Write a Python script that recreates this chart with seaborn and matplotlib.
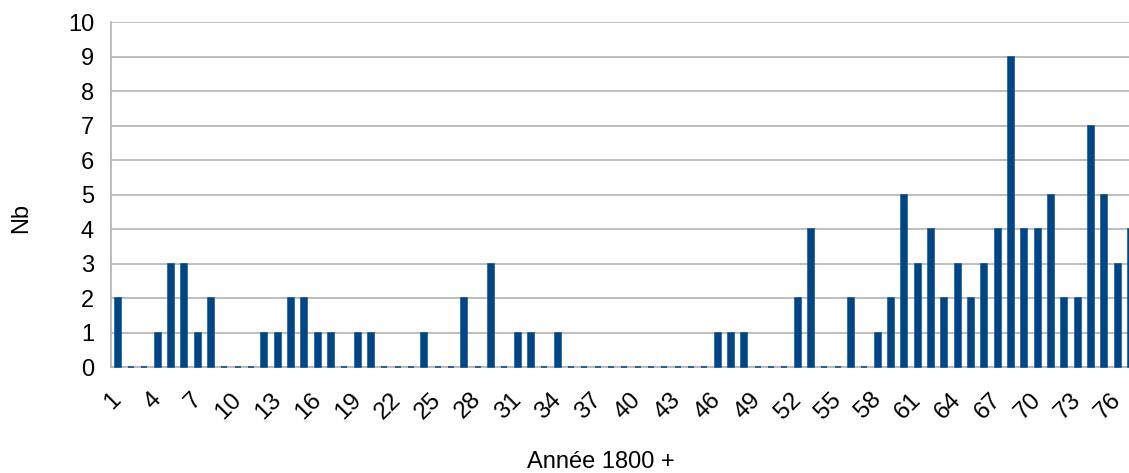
import seaborn as sns
import matplotlib.pyplot as plt
import pandas as pd

# years (1800 + n) and counts per year
years = list(range(1, 78))
counts = [
    2, 0, 0, 1, 3, 3, 1, 2, 0, 0,
    0, 1, 1, 2, 2, 1, 1, 0, 1, 1,
    0, 0, 0, 1, 0, 0, 2, 0, 3, 0,
    1, 1, 0, 1, 0, 0, 0, 0, 0, 0,
    0, 0, 0, 0, 0, 1, 1, 1, 0, 0,
    0, 2, 4, 0, 0, 2, 0, 1, 2, 5,
    3, 4, 2, 3, 2, 3, 4, 9, 4, 4,
    5, 2, 2, 7, 5, 3, 4,
]
shown_labels = [str(y) for y in years[::3]]

bar_color = "#004586"
grid_color = "#b3b3b3"

df = pd.DataFrame({"annee": [str(y) for y in years], "nb": counts})

sns.set_style("white")
plt.rcParams["font.family"] = ["Liberation Sans", "DejaVu Sans"]
plt.rcParams["text.color"] = "black"
plt.rcParams["xtick.labelcolor"] = "black"
plt.rcParams["ytick.labelcolor"] = "black"
plt.rcParams["axes.labelcolor"] = "black"

W, H = 1129, 473
fig = plt.figure(figsize=(W / 100, H / 100), dpi=100)

# plot area in pixels: left 111, top 22, bottom 367, 77 slots of 13.33 px
left, top, bottom = 111, 22.3, 367
slot = 13.333
ax = fig.add_axes([left / W, (H - bottom) / H, 77 * slot / W, (bottom - top) / H])

sns.barplot(
    data=df,
    x="annee",
    y="nb",
    order=[str(y) for y in years],
    color=bar_color,
    saturation=1,
    width=0.45,
    edgecolor=bar_color,
    linewidth=1.1,
    ax=ax,
)
# bars (and the zero-height stubs) drawn over the axis line
for p in ax.patches:
    p.set_zorder(3)
    p.set_clip_on(False)

ax.set_xlim(-0.5, len(years) - 0.5)
ax.set_ylim(0, 10)
ax.set_yticks(range(0, 11))
ax.set_yticklabels([str(i) for i in range(0, 11)], fontsize=17)

ax.set_xticks(range(0, len(years), 3))
ax.set_xticklabels(shown_labels, fontsize=17.5)
ax.set_xticks([i - 0.5 for i in range(len(years) + 1)], minor=True)
ax.tick_params(axis="x", which="major", length=0, pad=21)
ax.tick_params(axis="x", which="minor", length=7.2, width=1, color=grid_color)
ax.tick_params(axis="y", length=7.2, width=1, color=grid_color, pad=5)
for lab in ax.get_xticklabels():
    lab.set_rotation(45)
    lab.set_ha("right")
    lab.set_va("center")
    lab.set_rotation_mode("anchor")

ax.yaxis.grid(True, color=grid_color, linewidth=1.2)
ax.set_axisbelow(True)
for s in ["top", "right"]:
    ax.spines[s].set_visible(False)
for s in ["left", "bottom"]:
    ax.spines[s].set_color(grid_color)
    ax.spines[s].set_linewidth(1.2)

ax.set_xlabel("Année 1800 +", fontsize=17)
ax.set_ylabel("Nb", fontsize=17)
ax.xaxis.set_label_coords((601 - left) / (77 * slot), (bottom - 462) / (bottom - top))
ax.xaxis.label.set_va("center")
ax.yaxis.set_label_coords((21 - left) / (77 * slot), (bottom - 218) / (bottom - top))
ax.yaxis.label.set_va("center")

fig.savefig("out.png", dpi=100)
plt.close(fig)
